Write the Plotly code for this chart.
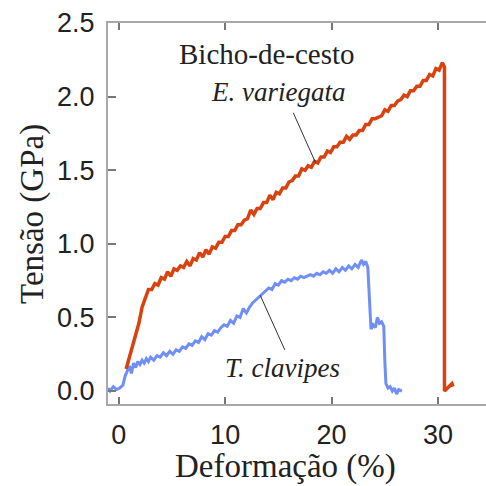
import plotly.graph_objects as go

# E. variegata (Bicho-de-cesto) - strain (%) vs stress (GPa)
ev_strain = [0.7, 1.0, 1.3, 1.6, 1.9, 2.2, 2.5, 2.8, 3.1, 3.4, 3.7, 4.0, 4.3, 4.6, 4.9,
             5.2, 5.5, 5.8, 6.1, 6.4, 6.7, 7.0, 7.3, 7.6, 7.9, 8.2, 8.5, 8.8, 9.1, 9.4,
             9.7, 10.0, 10.3, 10.6, 10.9, 11.2, 11.5, 11.8, 12.1, 12.4, 12.7, 13.0, 13.3,
             13.6, 13.9, 14.2, 14.5, 14.8, 15.1, 15.4, 15.7, 16.0, 16.3, 16.6, 16.9, 17.2,
             17.5, 17.8, 18.1, 18.4, 18.7, 19.0, 19.3, 19.6, 19.9, 20.2, 20.5, 20.8, 21.1,
             21.4, 21.7, 22.0, 22.3, 22.6, 22.9, 23.2, 23.5, 23.8, 24.1, 24.4, 24.7, 25.0,
             25.3, 25.6, 25.9, 26.2, 26.5, 26.8, 27.1, 27.4, 27.7, 28.0, 28.3, 28.6, 28.9,
             29.2, 29.5, 29.8, 30.1, 30.4, 30.5, 30.6, 30.6, 31.3, 31.4]
ev_stress = [0.15, 0.23, 0.29, 0.39, 0.46, 0.57, 0.63, 0.69, 0.69, 0.73, 0.72, 0.77, 0.76, 0.81, 0.78,
             0.83, 0.82, 0.85, 0.84, 0.88, 0.85, 0.90, 0.89, 0.94, 0.91, 0.96, 0.93, 0.98, 0.97, 1.01,
             1.01, 1.05, 1.05, 1.09, 1.09, 1.13, 1.13, 1.16, 1.17, 1.23, 1.20, 1.24, 1.24,
             1.28, 1.28, 1.33, 1.30, 1.35, 1.34, 1.38, 1.38, 1.42, 1.43, 1.46, 1.46, 1.51,
             1.50, 1.53, 1.52, 1.56, 1.55, 1.59, 1.59, 1.63, 1.62, 1.66, 1.66, 1.69, 1.69,
             1.73, 1.71, 1.74, 1.74, 1.77, 1.77, 1.81, 1.81, 1.85, 1.85, 1.86, 1.87, 1.91,
             1.90, 1.94, 1.94, 1.97, 1.98, 2.01, 2.00, 2.04, 2.04, 2.07, 2.07, 2.11, 2.11,
             2.15, 2.14, 2.19, 2.18, 2.23, 2.21, 2.20, 0.00, 0.05, 0.03]

# T. clavipes
tc_strain = [-1.0, -0.8, -0.5, -0.2, 0.1, 0.4, 0.6, 0.8, 1.0, 1.2, 1.4, 1.6, 1.8, 2.0, 2.2,
             2.4, 2.6, 2.8, 3.0, 3.3, 3.6, 3.9, 4.2, 4.5, 4.8, 5.1, 5.4, 5.7, 6.0, 6.3, 6.6,
             6.9, 7.2, 7.5, 7.8, 8.1, 8.4, 8.7, 9.0, 9.3, 9.6, 9.9, 10.2, 10.5, 10.8, 11.1,
             11.4, 11.7, 12.0, 12.3, 12.6, 12.9, 13.2, 13.5, 13.8, 14.1, 14.4, 14.7, 15.0,
             15.3, 15.6, 15.9, 16.2, 16.5, 16.8, 17.1, 17.4, 17.7, 18.0, 18.3, 18.6, 18.9,
             19.2, 19.5, 19.8, 20.1, 20.4, 20.7, 21.0, 21.3, 21.6, 21.9, 22.2, 22.5, 22.8,
             23.0, 23.2, 23.4, 23.6, 23.7, 23.9, 24.1, 24.3, 24.5, 24.7, 24.9, 25.0, 25.1,
             25.3, 25.5, 25.7, 25.9, 26.1, 26.3, 26.6]
tc_stress = [0.02, 0.00, 0.03, 0.01, 0.02, 0.04, 0.10, 0.14, 0.17, 0.12, 0.19, 0.16, 0.20, 0.18, 0.21,
             0.19, 0.22, 0.20, 0.23, 0.21, 0.24, 0.23, 0.26, 0.24, 0.27, 0.25, 0.28, 0.27, 0.30, 0.29, 0.32,
             0.31, 0.34, 0.33, 0.37, 0.35, 0.39, 0.38, 0.41, 0.40, 0.43, 0.45, 0.44, 0.48, 0.46, 0.51,
             0.50, 0.56, 0.53, 0.57, 0.60, 0.62, 0.64, 0.66, 0.68, 0.70, 0.69, 0.73, 0.72,
             0.75, 0.74, 0.76, 0.75, 0.77, 0.76, 0.78, 0.77, 0.78, 0.79, 0.78, 0.80, 0.79,
             0.81, 0.80, 0.82, 0.80, 0.83, 0.81, 0.84, 0.82, 0.85, 0.83, 0.86, 0.84, 0.89,
             0.86, 0.88, 0.84, 0.60, 0.42, 0.45, 0.43, 0.50, 0.46, 0.47, 0.44, 0.20, 0.05,
             0.02, 0.03, 0.00, 0.02, -0.02, 0.01, 0.00]

x_ticks = [0, 10, 20, 30]
y_ticks = [0.0, 0.5, 1.0, 1.5, 2.0, 2.5]
y_tick_text = ["0.0", "0.5", "1.0", "1.5", "2.0", "2.5"]

RED = "#D8420E"
BLUE = "#6F8EF7"
AXIS = "#a8a8a8"
SERIF = "Liberation Serif"
SANS = "Liberation Sans"

fig = go.Figure()
fig.add_trace(go.Scatter(x=tc_strain, y=tc_stress, mode="lines",
                         line=dict(color=BLUE, width=3), showlegend=False))
fig.add_trace(go.Scatter(x=ev_strain, y=ev_stress, mode="lines",
                         line=dict(color=RED, width=3.5), showlegend=False))

xr = [-1.0, 34.5]
yr = [-0.088, 2.5]

fig.update_layout(
    width=486, height=486,
    margin=dict(l=108, r=0, t=23, b=82),
    paper_bgcolor="white", plot_bgcolor="white",
    xaxis=dict(range=xr, tickvals=x_ticks, ticks="inside", ticklen=7, tickwidth=1.5,
               tickcolor="#777", showline=True, linecolor=AXIS, linewidth=2,
               mirror="ticks", showgrid=False, zeroline=False,
               tickfont=dict(family=SANS, size=27, color="#222"),
               ticklabelstandoff=6),
    yaxis=dict(range=yr, tickvals=y_ticks, ticktext=y_tick_text, ticks="inside",
               ticklen=8, tickwidth=1.5, tickcolor="#777", showline=True,
               linecolor=AXIS, linewidth=2, showgrid=False, zeroline=False,
               tickfont=dict(family=SANS, size=27, color="#222"),
               ticklabelstandoff=6),
    yaxis2=dict(range=yr, tickvals=y_ticks, overlaying="y", side="right",
                anchor="free", position=1.0, ticks="inside", ticklen=4,
                tickwidth=1.5, tickcolor="#777", showline=False,
                showticklabels=False, showgrid=False, zeroline=False),
    annotations=[
        dict(text="Deformação (%)", xref="paper", yref="paper", x=0.47, y=-0.165,
             xanchor="center", yanchor="middle", showarrow=False,
             font=dict(family=SERIF, size=33, color="#222")),
        dict(text="Tensão (GPa)", xref="paper", yref="paper", x=-0.2, y=0.5,
             xanchor="center", yanchor="middle", showarrow=False, textangle=-90,
             font=dict(family=SERIF, size=33, color="#222")),
        dict(text="Bicho-de-cesto", x=13.9, y=2.29, showarrow=False,
             font=dict(family=SERIF, size=29, color="#222")),
        dict(text="<i>E. variegata</i>", x=15.0, y=2.03, showarrow=False,
             font=dict(family=SERIF, size=27, color="#222")),
        dict(text="<i>T. clavipes</i>", x=15.4, y=0.156, showarrow=False,
             font=dict(family=SERIF, size=27, color="#222")),
    ],
    shapes=[
        dict(type="line", x0=16.4, y0=1.89, x1=18.5, y1=1.55,
             line=dict(color="#333", width=1)),
        dict(type="line", x0=15.6, y0=0.28, x1=13.3, y1=0.65,
             line=dict(color="#333", width=1)),
    ],
)

fig.write_html("out.html")
